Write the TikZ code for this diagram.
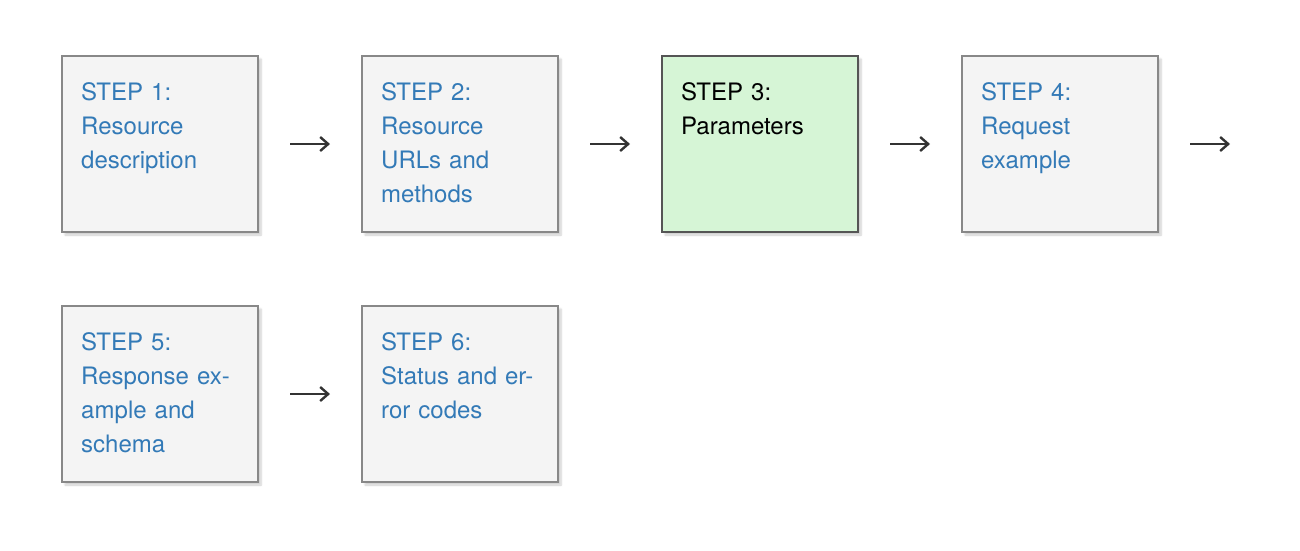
\documentclass[tikz,border=0pt]{standalone}
\usepackage{fontspec}
\setmainfont{TeX Gyre Heros}
\usepackage{tikz}
\usetikzlibrary{arrows.meta,shadows.blur}

\definecolor{linkblue}{HTML}{337AB7}
\definecolor{boxgray}{HTML}{F4F4F4}
\definecolor{boxline}{HTML}{888888}
\definecolor{donegreen}{HTML}{D6F5D6}
\definecolor{doneline}{HTML}{555555}
\definecolor{arrowgray}{HTML}{333333}

\tikzset{
  stepbox/.style={draw=boxline, line width=2pt, fill=boxgray, minimum width=196pt, minimum height=176pt,
    inner sep=0pt, blur shadow={shadow xshift=3pt, shadow yshift=-3pt, shadow blur steps=6, shadow opacity=20}},
  curbox/.style={stepbox, draw=doneline, fill=donegreen},
  steptext/.style={anchor=base west, inner sep=0pt, text width=160pt, align=left, text=linkblue,
    font=\fontsize{24}{34}\selectfont},
  curtext/.style={steptext, text=black},
  flow/.style={-{Straight Barb[length=8pt,width=14pt,line width=2.4pt]}, line width=2pt, color=arrowgray, shorten <=31pt, shorten >=31pt},
}

\begin{document}
\begin{tikzpicture}[x=1pt,y=-1pt]
 \useasboundingbox (0,0) rectangle (1300,550);

 \draw (160,144) node[stepbox] (step1) {};
 \draw (460,144) node[stepbox] (step2) {};
 \draw (760,144) node[curbox] (step3) {};
 \draw (1060,144) node[stepbox] (step4) {};
 \draw (160,394) node[stepbox] (step5) {};
 \draw (460,394) node[stepbox] (step6) {};
 \coordinate (next) at (1230,144);

 \draw ([shift={(20,45)}]step1.north west) node[steptext] (text1) {STEP 1:\\Resource\\description};
 \draw ([shift={(20,45)}]step2.north west) node[steptext] (text2) {STEP 2:\\Resource\\URLs and\\methods};
 \draw ([shift={(20,45)}]step3.north west) node[curtext] (text3) {STEP 3:\\Parameters};
 \draw ([shift={(20,45)}]step4.north west) node[steptext] (text4) {STEP 4:\\Request\\example};
 \draw ([shift={(20,45)}]step5.north west) node[steptext] (text5) {STEP 5:\\Response ex-\\ample and\\schema};
 \draw ([shift={(20,45)}]step6.north west) node[steptext] (text6) {STEP 6:\\Status and er-\\ror codes};

 \path[flow] (step1) edge (step2);
 \path[flow] (step2) edge (step3);
 \path[flow] (step3) edge (step4);
 \path[flow, shorten >=0pt] (step4) edge (next);
 \path[flow] (step5) edge (step6);

\end{tikzpicture}
\end{document}
